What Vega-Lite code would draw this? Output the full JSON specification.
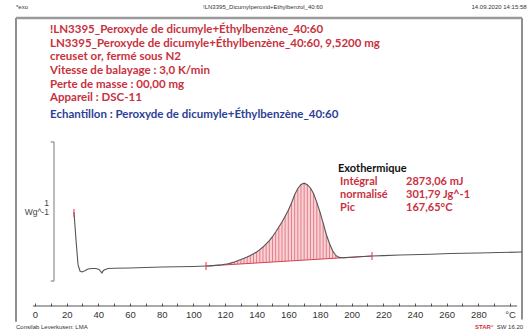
{
  "$schema": "https://vega.github.io/schema/vega-lite/v6.json",
  "width": 506,
  "height": 303,
  "autosize": {"type": "none"},
  "padding": {"left": 16, "top": 18, "right": 7, "bottom": 8},
  "background": "white",
  "config": {"view": {"stroke": null}},
  "datasets": {
    "curve": [
      {"x": 24.6, "y": 0.391}, {"x": 25.2, "y": 0.3}, {"x": 25.9, "y": 0.188}, {"x": 26.6, "y": 0.09},
      {"x": 27.2, "y": 0.007}, {"x": 28.4, "y": -0.037}, {"x": 29.7, "y": -0.044}, {"x": 31.5, "y": -0.035},
      {"x": 33.5, "y": -0.022}, {"x": 36, "y": -0.019}, {"x": 38.5, "y": -0.019}, {"x": 40.5, "y": -0.026},
      {"x": 41.6, "y": -0.042}, {"x": 42.3, "y": -0.051}, {"x": 42.8, "y": -0.04}, {"x": 43.6, "y": -0.03},
      {"x": 46.1, "y": -0.019}, {"x": 50, "y": -0.017}, {"x": 60, "y": -0.015}, {"x": 70, "y": -0.012},
      {"x": 80, "y": -0.008}, {"x": 90, "y": -0.006}, {"x": 100, "y": -0.004},
      {"x": 108, "y": -0.001}, {"x": 110, "y": 0.0}, {"x": 112, "y": 0.002}, {"x": 114, "y": 0.004},
      {"x": 116, "y": 0.006}, {"x": 118, "y": 0.008}, {"x": 120, "y": 0.012}, {"x": 122, "y": 0.016},
      {"x": 124, "y": 0.022}, {"x": 126, "y": 0.029}, {"x": 128, "y": 0.038}, {"x": 130, "y": 0.046},
      {"x": 132, "y": 0.055}, {"x": 134, "y": 0.065}, {"x": 136, "y": 0.076}, {"x": 138, "y": 0.088},
      {"x": 140, "y": 0.101}, {"x": 142, "y": 0.118}, {"x": 144, "y": 0.137}, {"x": 146, "y": 0.16},
      {"x": 148, "y": 0.184}, {"x": 150, "y": 0.212}, {"x": 152, "y": 0.246}, {"x": 154, "y": 0.282},
      {"x": 156, "y": 0.319}, {"x": 158, "y": 0.36}, {"x": 160, "y": 0.404}, {"x": 162, "y": 0.457},
      {"x": 164, "y": 0.517}, {"x": 166, "y": 0.562}, {"x": 168, "y": 0.592}, {"x": 170, "y": 0.601},
      {"x": 172, "y": 0.59}, {"x": 174, "y": 0.566}, {"x": 176, "y": 0.524}, {"x": 178, "y": 0.461},
      {"x": 180, "y": 0.391}, {"x": 182, "y": 0.312}, {"x": 184, "y": 0.228}, {"x": 186, "y": 0.163},
      {"x": 188, "y": 0.11}, {"x": 190, "y": 0.076}, {"x": 192, "y": 0.062}, {"x": 194, "y": 0.059},
      {"x": 196, "y": 0.06}, {"x": 200, "y": 0.063}, {"x": 205, "y": 0.066}, {"x": 212.9, "y": 0.072},
      {"x": 220, "y": 0.075}, {"x": 230.6, "y": 0.079}, {"x": 250, "y": 0.085}, {"x": 262.2, "y": 0.09},
      {"x": 280, "y": 0.094}, {"x": 293.7, "y": 0.097}, {"x": 307.6, "y": 0.101}
    ],
    "hatch": [
      {"x": 108, "b": -0.001, "v": -0.001}, {"x": 110, "b": 0.0, "v": 0.0}, {"x": 112, "b": 0.002, "v": 0.002},
      {"x": 114, "b": 0.003, "v": 0.004}, {"x": 116, "b": 0.005, "v": 0.006}, {"x": 118, "b": 0.006, "v": 0.008},
      {"x": 120, "b": 0.007, "v": 0.012}, {"x": 122, "b": 0.009, "v": 0.016}, {"x": 124, "b": 0.01, "v": 0.022},
      {"x": 126, "b": 0.012, "v": 0.029}, {"x": 128, "b": 0.013, "v": 0.038}, {"x": 130, "b": 0.014, "v": 0.046},
      {"x": 132, "b": 0.016, "v": 0.055}, {"x": 134, "b": 0.017, "v": 0.065}, {"x": 136, "b": 0.018, "v": 0.076},
      {"x": 138, "b": 0.02, "v": 0.088}, {"x": 140, "b": 0.021, "v": 0.101}, {"x": 142, "b": 0.023, "v": 0.118},
      {"x": 144, "b": 0.024, "v": 0.137}, {"x": 146, "b": 0.025, "v": 0.16}, {"x": 148, "b": 0.027, "v": 0.184},
      {"x": 150, "b": 0.028, "v": 0.212}, {"x": 152, "b": 0.03, "v": 0.246}, {"x": 154, "b": 0.031, "v": 0.282},
      {"x": 156, "b": 0.032, "v": 0.319}, {"x": 158, "b": 0.034, "v": 0.36}, {"x": 160, "b": 0.035, "v": 0.404},
      {"x": 162, "b": 0.037, "v": 0.457}, {"x": 164, "b": 0.038, "v": 0.517}, {"x": 166, "b": 0.039, "v": 0.562},
      {"x": 168, "b": 0.041, "v": 0.592}, {"x": 170, "b": 0.042, "v": 0.601}, {"x": 172, "b": 0.044, "v": 0.59},
      {"x": 174, "b": 0.045, "v": 0.566}, {"x": 176, "b": 0.046, "v": 0.524}, {"x": 178, "b": 0.048, "v": 0.461},
      {"x": 180, "b": 0.049, "v": 0.391}, {"x": 182, "b": 0.051, "v": 0.312}, {"x": 184, "b": 0.052, "v": 0.228},
      {"x": 186, "b": 0.053, "v": 0.163}, {"x": 188, "b": 0.055, "v": 0.11}, {"x": 190, "b": 0.056, "v": 0.076},
      {"x": 192, "b": 0.058, "v": 0.062}, {"x": 194, "b": 0.059, "v": 0.059}
    ],
    "baseline": [{"x": 108, "y": -0.001}, {"x": 212.9, "y": 0.072}],
    "markers": [{"x": 108, "y": -0.001}, {"x": 212.9, "y": 0.072}, {"x": 24.6, "y": 0.385}],
    "bracket": [
      {"x": 9.9, "y": 0.9, "o": 1}, {"x": 12.0, "y": 0.9, "o": 2},
      {"x": 12.0, "y": -0.11, "o": 3}, {"x": 9.9, "y": -0.11, "o": 4}
    ],
    "axisline": [{"x": -1.3, "x2": 304.5, "y": -0.291}],
    "vframe": [{"x": -12, "y": -0.405, "y2": 1.8}, {"x": 307.6, "y": -0.39, "y2": 1.8}],
    "hframe": [{"x": -12, "x2": 307.6, "y": 1.8}],
    "redhead": [
      {"x": 9.5, "y": 1.713, "t": "!LN3395_Peroxyde de dicumyle+Éthylbenzène_40:60"},
      {"x": 9.5, "y": 1.611, "t": "LN3395_Peroxyde de dicumyle+Éthylbenzène_40:60, 9,5200 mg"},
      {"x": 9.5, "y": 1.517, "t": "creuset or, fermé sous N2"},
      {"x": 9.5, "y": 1.415, "t": "Vitesse de balayage : 3,0 K/min"},
      {"x": 9.5, "y": 1.313, "t": "Perte de masse : 00,00 mg"},
      {"x": 9.5, "y": 1.219, "t": "Appareil : DSC-11"}
    ],
    "bluehead": [{"x": 9.5, "y": 1.096, "t": "Echantillon : Peroxyde de dicumyle+Éthylbenzène_40:60"}],
    "exotitle": [{"x": 191.4, "y": 0.704, "t": "Exothermique"}],
    "exored": [
      {"x": 192.7, "y": 0.609, "t": "Intégral"},
      {"x": 192.7, "y": 0.515, "t": " normalisé"},
      {"x": 192.7, "y": 0.42, "t": "Pic"},
      {"x": 234.4, "y": 0.609, "t": "2873,06 mJ"},
      {"x": 234.4, "y": 0.515, "t": "301,79 Jg^-1"},
      {"x": 234.4, "y": 0.42, "t": "167,65°C"}
    ],
    "scalelabel": [{"x": 8.8, "y": 0.459, "t": "1"}, {"x": 8.8, "y": 0.394, "t": "Wg^-1"}],
    "topleft": [{"x": -12, "y": 1.88, "t": "*exo"}, {"x": -12, "y": -0.443, "t": "Consilab Leverkusen: LMA"}],
    "topcenter": [{"x": 144, "y": 1.88, "t": "!LN3395_Dicumylperoxid+Ethylbenzol_40:60"}],
    "topright": [{"x": 310.5, "y": 1.88, "t": "14.09.2020 14:15:58"}, {"x": 308.3, "y": -0.443, "t": "SW 16.20"}],
    "star": [{"x": 289.5, "y": -0.443, "t": "STAR°"}]
  },
  "encoding": {
    "x": {
      "field": "x", "type": "quantitative",
      "scale": {"domain": [-12, 307.6], "nice": false, "zero": false},
      "axis": {
        "orient": "bottom", "offset": -15, "domain": false, "grid": false, "title": null,
        "values": [0, 10, 20, 30, 40, 50, 60, 70, 80, 90, 100, 110, 120, 130, 140, 150, 160, 170, 180, 190, 200, 210, 220, 230, 240, 250, 260, 270, 280, 290, 300],
        "labelExpr": "datum.value == 300 ? '°C' : (datum.value % 20 == 0 ? datum.label : '')",
        "labelOverlap": false, "labelFlush": false,
        "tickSize": -3, "tickColor": "#555", "tickWidth": 1,
        "labelPadding": 6, "labelFont": "Liberation Sans", "labelFontSize": 9.5, "labelColor": "#333"
      }
    },
    "y": {
      "field": "y", "type": "quantitative",
      "scale": {"domain": [-0.4, 1.8], "nice": false, "zero": false},
      "axis": null
    }
  },
  "layer": [
    {"data": {"name": "vframe"}, "mark": {"type": "rule", "color": "#444", "strokeWidth": 1.2, "clip": false}, "encoding": {"y2": {"field": "y2"}}},
    {"data": {"name": "hframe"}, "mark": {"type": "rule", "color": "#9a9a9a", "strokeWidth": 2.5, "clip": false}, "encoding": {"x2": {"field": "x2"}}},
    {"data": {"name": "hatch"}, "mark": {"type": "area", "color": "#f6cdd0", "opacity": 0.9}, "encoding": {"y": {"field": "b", "type": "quantitative"}, "y2": {"field": "v"}}},
    {"data": {"name": "hatch"}, "mark": {"type": "rule", "color": "#e26673", "strokeWidth": 0.8}, "encoding": {"y": {"field": "b", "type": "quantitative"}, "y2": {"field": "v"}}},
    {"data": {"name": "baseline"}, "mark": {"type": "line", "color": "#d9404e", "strokeWidth": 1}, "encoding": {}},
    {"data": {"name": "curve"}, "mark": {"type": "line", "color": "#555", "strokeWidth": 1.1, "clip": false}, "encoding": {}},
    {"data": {"name": "markers"}, "mark": {"type": "tick", "orient": "vertical", "color": "#e0404e", "size": 8, "thickness": 1.5}, "encoding": {}},
    {"data": {"name": "bracket"}, "mark": {"type": "line", "color": "#777", "strokeWidth": 1}, "encoding": {"order": {"field": "o", "type": "quantitative"}}},
    {"data": {"name": "axisline"}, "mark": {"type": "rule", "color": "#555", "strokeWidth": 1}, "encoding": {"x2": {"field": "x2"}}},
    {"data": {"name": "redhead"}, "mark": {"type": "text", "align": "left", "baseline": "middle", "font": "Lato", "fontWeight": "bold", "fontSize": 11.5, "color": "#c8323e"}, "encoding": {"text": {"field": "t"}}},
    {"data": {"name": "bluehead"}, "mark": {"type": "text", "align": "left", "baseline": "middle", "font": "Lato", "fontWeight": "bold", "fontSize": 11.5, "color": "#2d3f98"}, "encoding": {"text": {"field": "t"}}},
    {"data": {"name": "exotitle"}, "mark": {"type": "text", "align": "left", "baseline": "middle", "font": "Lato", "fontWeight": "bold", "fontSize": 11, "color": "#111"}, "encoding": {"text": {"field": "t"}}},
    {"data": {"name": "exored"}, "mark": {"type": "text", "align": "left", "baseline": "middle", "font": "Lato", "fontWeight": "bold", "fontSize": 11, "color": "#c8323e"}, "encoding": {"text": {"field": "t"}}},
    {"data": {"name": "scalelabel"}, "mark": {"type": "text", "align": "right", "baseline": "middle", "font": "Liberation Sans", "fontSize": 8.5, "color": "#444"}, "encoding": {"text": {"field": "t"}}},
    {"data": {"name": "topleft"}, "mark": {"type": "text", "align": "left", "baseline": "middle", "font": "Liberation Sans", "fontSize": 6, "color": "#333", "clip": false}, "encoding": {"text": {"field": "t"}}},
    {"data": {"name": "topcenter"}, "mark": {"type": "text", "align": "center", "baseline": "middle", "font": "Liberation Sans", "fontSize": 6, "color": "#333", "clip": false}, "encoding": {"text": {"field": "t"}}},
    {"data": {"name": "topright"}, "mark": {"type": "text", "align": "right", "baseline": "middle", "font": "Liberation Sans", "fontSize": 6, "color": "#333", "clip": false}, "encoding": {"text": {"field": "t"}}},
    {"data": {"name": "star"}, "mark": {"type": "text", "align": "right", "baseline": "middle", "font": "Liberation Sans", "fontWeight": "bold", "fontSize": 6, "color": "#d0303c", "clip": false}, "encoding": {"text": {"field": "t"}}}
  ]
}
